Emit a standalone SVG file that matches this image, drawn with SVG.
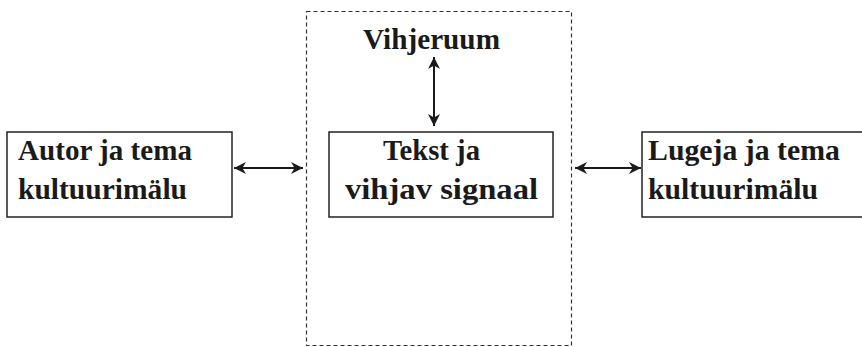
<svg xmlns="http://www.w3.org/2000/svg" width="862" height="347" viewBox="0 0 862 347">
<defs>
<style>
.box{fill:#fff;stroke:#222;stroke-width:1.5}
.lbl{font-family:"Liberation Serif","Times New Roman",serif;font-weight:bold;font-size:29px;fill:#1a1a1a}
.conn{stroke:#1a1a1a;stroke-width:2;fill:none}
</style>
<marker id="ah" viewBox="0 0 10 10" refX="10" refY="5" markerWidth="16" markerHeight="12" markerUnits="userSpaceOnUse" orient="auto-start-reverse">
<path d="M0,0 L10,5 L0,10 L3,5 Z" fill="#1a1a1a"/>
</marker>
</defs>
<rect width="862" height="347" fill="#fff"/>
<g id="vihjeruum-area">
<rect x="306.5" y="11.5" width="265" height="334" fill="none" stroke="#333" stroke-width="1.2" stroke-dasharray="4,3"/>
<text class="lbl" x="363" y="49" textLength="137" lengthAdjust="spacingAndGlyphs">Vihjeruum</text>
</g>
<g id="autor">
<rect class="box" x="7" y="132" width="225" height="85"/>
<text class="lbl" x="18" y="160" textLength="174" lengthAdjust="spacingAndGlyphs">Autor ja tema</text>
<text class="lbl" x="18" y="199" textLength="169" lengthAdjust="spacingAndGlyphs">kultuurimälu</text>
</g>
<g id="tekst">
<rect class="box" x="329" y="132" width="224" height="85"/>
<text class="lbl" x="383" y="160" textLength="97" lengthAdjust="spacingAndGlyphs">Tekst ja</text>
<text class="lbl" x="345" y="199" textLength="193" lengthAdjust="spacingAndGlyphs">vihjav signaal</text>
</g>
<g id="lugeja">
<rect class="box" x="642" y="132" width="240" height="85"/>
<text class="lbl" x="648" y="160" textLength="192" lengthAdjust="spacingAndGlyphs">Lugeja ja tema</text>
<text class="lbl" x="648" y="199" textLength="170" lengthAdjust="spacingAndGlyphs">kultuurimälu</text>
</g>
<g id="connectors">
<line class="conn" x1="234" y1="168" x2="303" y2="168" marker-start="url(#ah)" marker-end="url(#ah)"/>
<line class="conn" x1="575" y1="168" x2="641" y2="168" marker-start="url(#ah)" marker-end="url(#ah)"/>
<line class="conn" x1="434" y1="57" x2="434" y2="126" stroke-width="2.5" marker-start="url(#ah)" marker-end="url(#ah)"/>
</g>
</svg>
